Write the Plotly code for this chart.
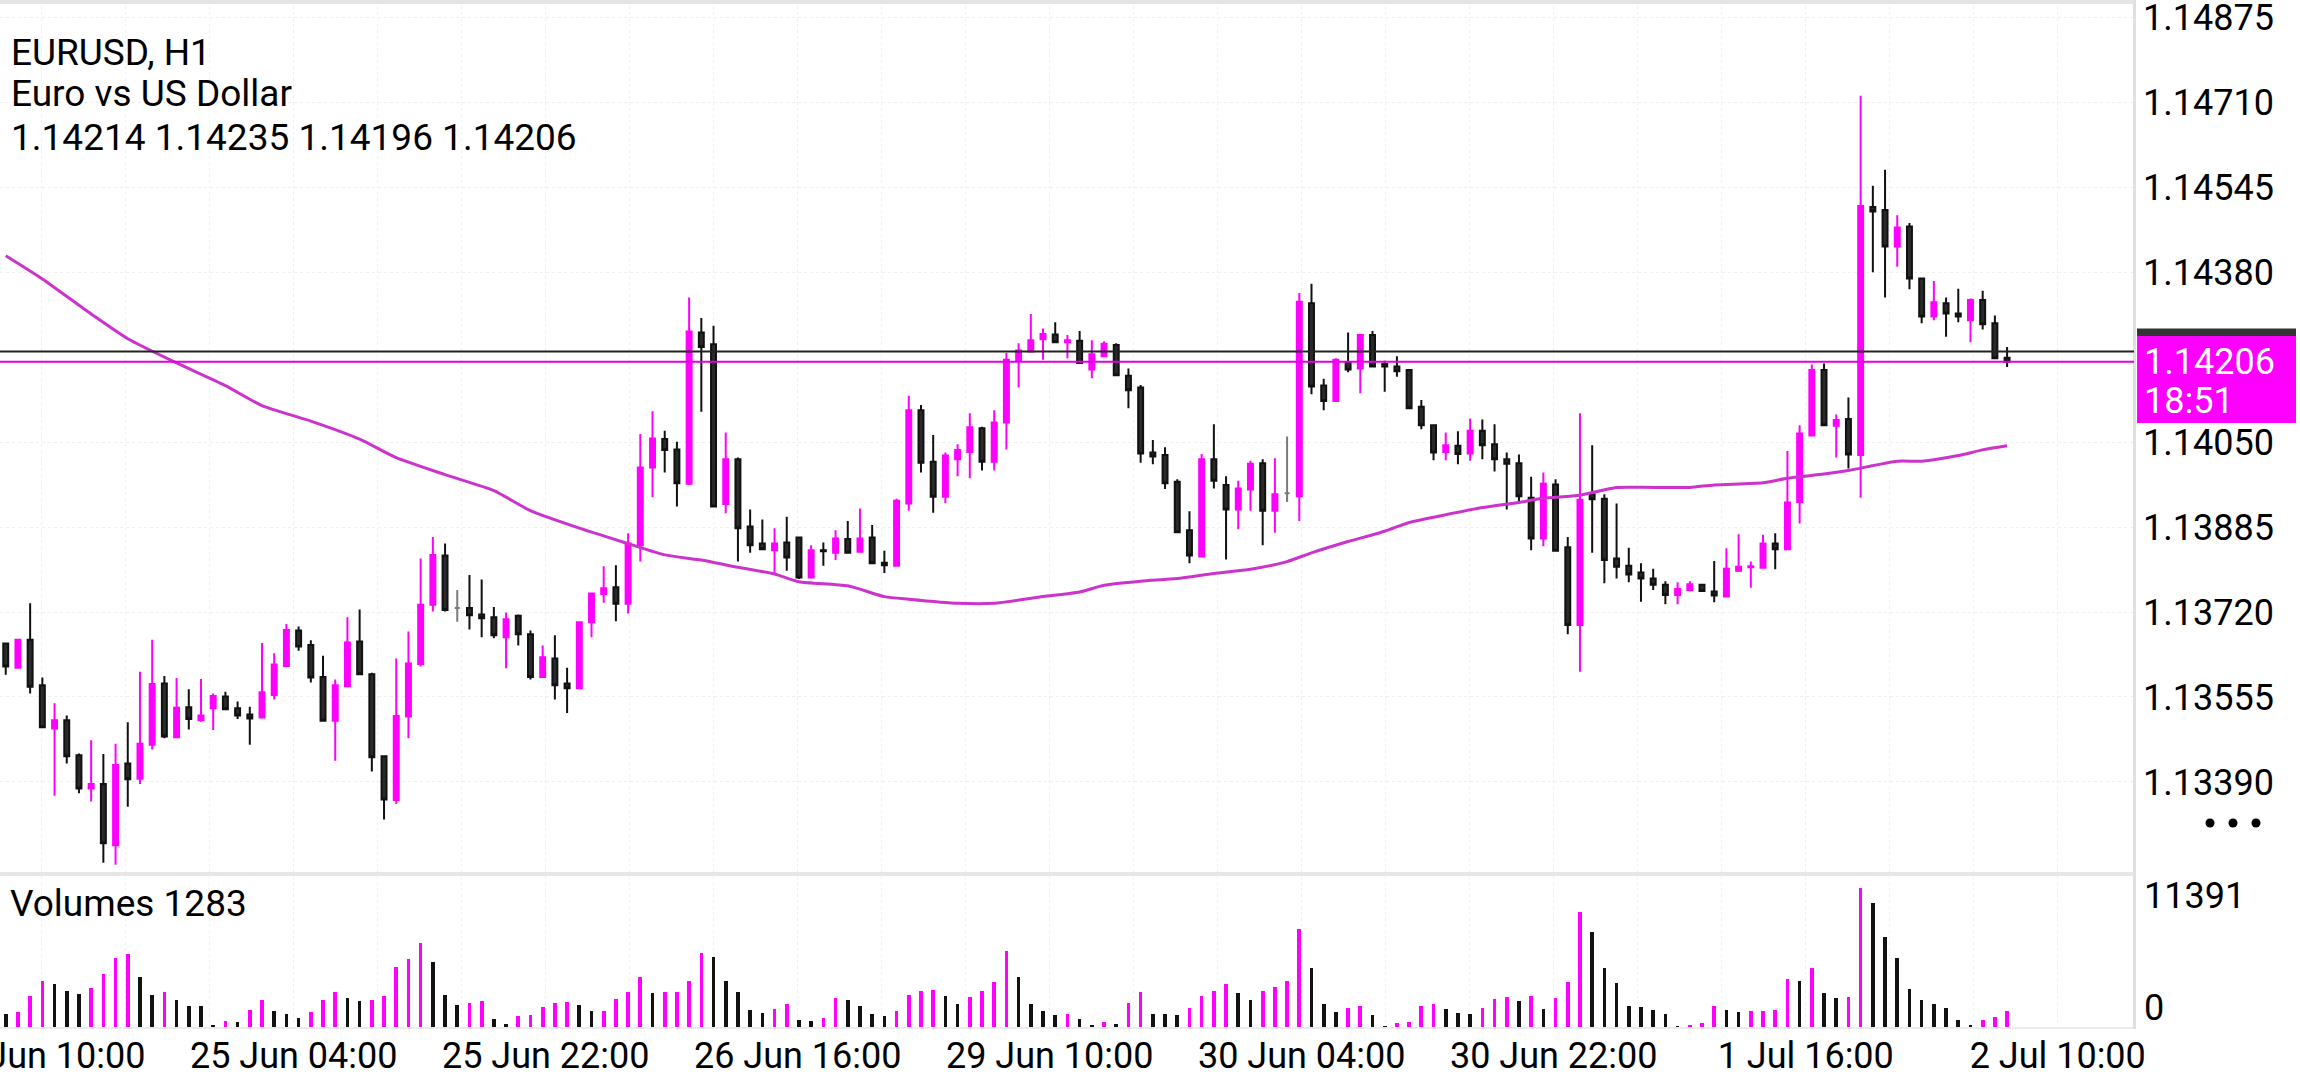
import plotly.graph_objects as go

# ---------------- data ----------------
SYMBOL = "EURUSD, H1"
DESCRIPTION = "Euro vs US Dollar"
BID = 1.14206
ASK = 1.14226
COUNTDOWN = "18:51"

opens = [1.13659, 1.13612, 1.13666, 1.13578, 1.13494, 1.13510, 1.13442, 1.13377, 1.13386, 1.13267,
         1.13426, 1.13396, 1.13462, 1.13581, 1.13477, 1.13535, 1.13510, 1.13533, 1.13556, 1.13533,
         1.13521, 1.13515, 1.13559, 1.13615, 1.13684, 1.13656, 1.13594, 1.13509, 1.13576, 1.13663,
         1.13599, 1.13440, 1.13355, 1.13517, 1.13619, 1.13734, 1.13830, 1.13728, 1.13728, 1.13715,
         1.13710, 1.13671, 1.13713, 1.13677, 1.13594, 1.13630, 1.13581, 1.13572, 1.13700, 1.13755,
         1.13768, 1.13736, 1.13850, 1.14001, 1.14056, 1.14036, 1.13969, 1.14263, 1.14240, 1.13930,
         1.14017, 1.13886, 1.13853, 1.13840, 1.13855, 1.13865, 1.13787, 1.13840, 1.13835, 1.13862,
         1.13837, 1.13865, 1.13816, 1.13810, 1.13931, 1.14112, 1.14012, 1.13944, 1.14017, 1.14031,
         1.14077, 1.14012, 1.14088, 1.14208, 1.14226, 1.14250, 1.14259, 1.14244, 1.14247, 1.14191,
         1.14217, 1.14239, 1.14179, 1.14156, 1.14030, 1.14025, 1.13973, 1.13879, 1.13828, 1.14017,
         1.13967, 1.13919, 1.13958, 1.14009, 1.13917, 1.13951, 1.13945, 1.14320, 1.14160, 1.14130,
         1.14204, 1.14193, 1.14258, 1.14202, 1.14197, 1.14190, 1.14119, 1.14083, 1.14031, 1.14043,
         1.14028, 1.14072, 1.14046, 1.14017, 1.14009, 1.13942, 1.13863, 1.13968, 1.13846, 1.13695,
         1.13949, 1.13940, 1.13824, 1.13810, 1.13797, 1.13785, 1.13773, 1.13753, 1.13763, 1.13773,
         1.13760, 1.13750, 1.13800, 1.13807, 1.13806, 1.13853, 1.13842, 1.13934, 1.14063, 1.14190,
         1.14082, 1.14095, 1.14025, 1.14507, 1.14501, 1.14430, 1.14469, 1.14368, 1.14294, 1.14320,
         1.14300, 1.14287, 1.14326, 1.14281, 1.14214]
highs = [1.13661, 1.13668, 1.13737, 1.13593, 1.13543, 1.13519, 1.13445, 1.13471, 1.13444, 1.13464,
         1.13506, 1.13604, 1.13666, 1.13596, 1.13592, 1.13570, 1.13590, 1.13562, 1.13565, 1.13546,
         1.13536, 1.13660, 1.13640, 1.13697, 1.13692, 1.13665, 1.13635, 1.13589, 1.13710, 1.13725,
         1.13602, 1.13442, 1.13630, 1.13682, 1.13824, 1.13866, 1.13853, 1.13763, 1.13792, 1.13783,
         1.13730, 1.13719, 1.13715, 1.13684, 1.13655, 1.13675, 1.13612, 1.13700, 1.13757, 1.13809,
         1.13811, 1.13873, 1.14066, 1.14110, 1.14072, 1.14051, 1.14331, 1.14291, 1.14276, 1.14069,
         1.14020, 1.13919, 1.13900, 1.13883, 1.13905, 1.13866, 1.13850, 1.13855, 1.13879, 1.13897,
         1.13921, 1.13889, 1.13839, 1.13940, 1.14140, 1.14122, 1.14064, 1.14030, 1.14046, 1.14106,
         1.14080, 1.14112, 1.14223, 1.14242, 1.14299, 1.14271, 1.14283, 1.14258, 1.14266, 1.14248,
         1.14246, 1.14242, 1.14193, 1.14161, 1.14054, 1.14040, 1.13978, 1.13916, 1.14027, 1.14085,
         1.13984, 1.13975, 1.14014, 1.14017, 1.14019, 1.14061, 1.14340, 1.14358, 1.14173, 1.14213,
         1.14263, 1.14258, 1.14266, 1.14208, 1.14217, 1.14191, 1.14132, 1.14085, 1.14069, 1.14071,
         1.14096, 1.14094, 1.14085, 1.14030, 1.14026, 1.13983, 1.13991, 1.13978, 1.13866, 1.14106,
         1.14044, 1.13949, 1.13931, 1.13845, 1.13815, 1.13804, 1.13780, 1.13778, 1.13780, 1.13774,
         1.13819, 1.13844, 1.13871, 1.13818, 1.13870, 1.13873, 1.14033, 1.14083, 1.14201, 1.14203,
         1.14104, 1.14137, 1.14723, 1.14548, 1.14579, 1.14491, 1.14476, 1.14370, 1.14363, 1.14331,
         1.14348, 1.14329, 1.14344, 1.14296, 1.14235]
lows = [1.13598, 1.13611, 1.13562, 1.13495, 1.13363, 1.13426, 1.13368, 1.13352, 1.13233, 1.13229,
        1.13342, 1.13386, 1.13453, 1.13475, 1.13477, 1.13492, 1.13507, 1.13491, 1.13531, 1.13512,
        1.13462, 1.13515, 1.13550, 1.13615, 1.13645, 1.13583, 1.13507, 1.13431, 1.13575, 1.13599,
        1.13410, 1.13317, 1.13347, 1.13475, 1.13614, 1.13721, 1.13721, 1.13701, 1.13686, 1.13671,
        1.13669, 1.13611, 1.13655, 1.13589, 1.13592, 1.13550, 1.13524, 1.13570, 1.13671, 1.13738,
        1.13702, 1.13717, 1.13818, 1.13943, 1.13991, 1.13925, 1.13967, 1.14109, 1.13923, 1.13912,
        1.13818, 1.13835, 1.13841, 1.13796, 1.13800, 1.13784, 1.13785, 1.13810, 1.13821, 1.13834,
        1.13835, 1.13814, 1.13796, 1.13810, 1.13917, 1.13991, 1.13913, 1.13932, 1.13984, 1.13980,
        1.13995, 1.13995, 1.14036, 1.14156, 1.14226, 1.14210, 1.14242, 1.14213, 1.14204, 1.14174,
        1.14216, 1.14179, 1.14116, 1.14010, 1.14007, 1.13959, 1.13874, 1.13815, 1.13828, 1.13960,
        1.13822, 1.13881, 1.13917, 1.13850, 1.13874, 1.13934, 1.13897, 1.14143, 1.14112, 1.14130,
        1.14186, 1.14145, 1.14195, 1.14148, 1.14177, 1.14115, 1.14075, 1.14015, 1.14015, 1.14007,
        1.14014, 1.14017, 1.13993, 1.13919, 1.13931, 1.13840, 1.13848, 1.13837, 1.13677, 1.13604,
        1.13835, 1.13776, 1.13785, 1.13778, 1.13740, 1.13763, 1.13735, 1.13735, 1.13760, 1.13760,
        1.13739, 1.13750, 1.13798, 1.13767, 1.13806, 1.13803, 1.13842, 1.13892, 1.14061, 1.14082,
        1.14020, 1.13999, 1.13942, 1.14380, 1.14331, 1.14391, 1.14347, 1.14281, 1.14287, 1.14255,
        1.14283, 1.14244, 1.14269, 1.14211, 1.14196]
closes = [1.13614, 1.13666, 1.13575, 1.13496, 1.13510, 1.13440, 1.13377, 1.13386, 1.13271, 1.13423,
          1.13395, 1.13464, 1.13580, 1.13478, 1.13534, 1.13512, 1.13519, 1.13557, 1.13531, 1.13519,
          1.13513, 1.13564, 1.13618, 1.13685, 1.13653, 1.13593, 1.13509, 1.13578, 1.13661, 1.13599,
          1.13438, 1.13356, 1.13518, 1.13620, 1.13734, 1.13831, 1.13724, 1.13728, 1.13714, 1.13708,
          1.13675, 1.13706, 1.13677, 1.13594, 1.13632, 1.13578, 1.13572, 1.13700, 1.13756, 1.13766,
          1.13736, 1.13853, 1.14001, 1.14057, 1.14035, 1.13970, 1.14265, 1.14235, 1.13925, 1.14017,
          1.13883, 1.13850, 1.13842, 1.13853, 1.13826, 1.13787, 1.13840, 1.13838, 1.13863, 1.13835,
          1.13863, 1.13815, 1.13811, 1.13936, 1.14112, 1.14010, 1.13944, 1.14024, 1.14035, 1.14079,
          1.14012, 1.14088, 1.14210, 1.14228, 1.14248, 1.14260, 1.14244, 1.14248, 1.14204, 1.14221,
          1.14241, 1.14180, 1.14151, 1.14028, 1.14022, 1.13970, 1.13875, 1.13830, 1.14017, 1.13975,
          1.13919, 1.13960, 1.14008, 1.13917, 1.13949, 1.13951, 1.14323, 1.14158, 1.14130, 1.14210,
          1.14191, 1.14258, 1.14197, 1.14197, 1.14188, 1.14116, 1.14083, 1.14030, 1.14044, 1.14027,
          1.14072, 1.14044, 1.14017, 1.14008, 1.13945, 1.13863, 1.13969, 1.13839, 1.13695, 1.13938,
          1.13939, 1.13821, 1.13808, 1.13793, 1.13785, 1.13773, 1.13753, 1.13765, 1.13774, 1.13761,
          1.13752, 1.13804, 1.13808, 1.13809, 1.13853, 1.13842, 1.13933, 1.14067, 1.14190, 1.14083,
          1.14093, 1.14026, 1.14509, 1.14498, 1.14430, 1.14467, 1.14368, 1.14294, 1.14322, 1.14300,
          1.14294, 1.14326, 1.14279, 1.14213, 1.14206]
volumes = [1092, 1229, 2512, 3767, 3549, 2921, 2675, 3194, 4368, 5624,
           5951, 4095, 2594, 2839, 2184, 1747, 1693, 137, 464, 382,
           1365, 2184, 1283, 1037, 737, 1229, 2184, 2839, 2375, 2129,
           2184, 2512, 4914, 5542, 6880, 5296, 2594, 1775, 1966, 2102,
           683, 218, 901, 956, 1611, 1993, 2048, 1775, 1283, 1338,
           2293, 2839, 4095, 2785, 2839, 2894, 3767, 6061, 5733, 3740,
           2839, 1365, 1147, 1447, 1856, 546, 491, 737, 2375, 2184,
           1720, 1092, 874, 1310, 2594, 2948, 3003, 2512, 1856, 2457,
           2948, 3658, 6224, 4095, 1911, 1310, 956, 1037, 628, 109,
           410, 218, 1966, 2839, 1092, 1037, 956, 1556, 2512, 2921,
           3549, 2785, 2184, 2948, 3276, 3767, 8054, 4832, 1856, 1229,
           1556, 1720, 956, 82, 328, 410, 1720, 1856, 1447, 1147,
           1037, 1556, 2293, 2457, 2102, 2512, 1447, 2375, 3658, 9419,
           7781, 4832, 3604, 1720, 1638, 1365, 1037, 30, 191, 328,
           1720, 1365, 1229, 1283, 1338, 1365, 3931, 3767, 4832, 2785,
           2402, 2457, 11391, 10156, 7371, 5651, 3112, 2184, 1856, 1556,
           546, 137, 546, 819, 1283]

# moving average, read at these bar numbers
ma_bars = [0, 3, 7, 10, 14, 18, 21, 25, 29, 32, 36, 40, 43, 47, 51, 54, 57, 60, 63, 65,
           69, 72, 74, 78, 81, 85, 88, 90, 93, 96, 99, 102, 105, 107, 110, 113, 115, 118, 121, 124,
           126, 129, 132, 135, 138, 140, 144, 146, 149, 151, 155, 157, 160, 162, 164]
ma_values = [1.14412, 1.14367, 1.14299, 1.14251, 1.14204, 1.14160, 1.14121, 1.14091, 1.14056, 1.14020,
             1.13987, 1.13956, 1.13917, 1.13883, 1.13853, 1.13831, 1.13821, 1.13807, 1.13794, 1.13779,
             1.13771, 1.13750, 1.13745, 1.13737, 1.13737, 1.13750, 1.13759, 1.13772, 1.13780, 1.13785,
             1.13795, 1.13803, 1.13818, 1.13835, 1.13857, 1.13877, 1.13894, 1.13909, 1.13923, 1.13933,
             1.13941, 1.13947, 1.13962, 1.13962, 1.13962, 1.13967, 1.13971, 1.13980, 1.13988, 1.13995,
             1.14013, 1.14013, 1.14024, 1.14035, 1.14043]

price_ticks = [1.13390, 1.13555, 1.13720, 1.13885, 1.14050, 1.14380, 1.14545, 1.14710, 1.14875]
time_labels = ["24 Jun 10:00", "25 Jun 04:00", "25 Jun 22:00", "26 Jun 16:00", "29 Jun 10:00",
               "30 Jun 04:00", "30 Jun 22:00", "1 Jul 16:00", "2 Jul 10:00"]
time_label_bars = [2.95, 23.6, 44.25, 64.9, 85.55, 106.2, 126.85, 147.5, 168.15]

# ---------------- layout geometry (pixels) ----------------
W, H = 2300, 1080
PLOT_R = 2134          # right edge of plotting area
MAIN_BOTTOM = 872
VOL_TOP = 876
VOL_BOTTOM = 1027
X_RANGE = [-0.47, 174.4]
Y_RANGE = [1.13215, 1.14909]
VOL_RANGE = [0, 12374]

MAGENTA = "#FF00FF"
MA_COLOR = "#CC33CC"
FONT = "Roboto"


def px(x):
    return x / PLOT_R


def py(y):
    return (VOL_BOTTOM - y) / VOL_BOTTOM


bars = list(range(len(opens)))
doji = [o == c for o, c in zip(opens, closes)]


def keep(arr, flags):
    return [v if f else None for v, f in zip(arr, flags)]


not_doji = [not d for d in doji]

fig = go.Figure()

fig.add_trace(go.Candlestick(
    x=bars, open=keep(opens, not_doji), high=keep(highs, not_doji),
    low=keep(lows, not_doji), close=keep(closes, not_doji),
    increasing=dict(line=dict(color=MAGENTA, width=2), fillcolor=MAGENTA),
    decreasing=dict(line=dict(color="#111111", width=2), fillcolor="#2a2a2a"),
    whiskerwidth=0, xaxis="x", yaxis="y", hoverinfo="skip"))

fig.add_trace(go.Candlestick(
    x=bars, open=keep(opens, doji), high=keep(highs, doji),
    low=keep(lows, doji), close=keep(closes, doji),
    increasing=dict(line=dict(color="#7a7a7a", width=2), fillcolor="#7a7a7a"),
    decreasing=dict(line=dict(color="#7a7a7a", width=2), fillcolor="#7a7a7a"),
    whiskerwidth=0, xaxis="x", yaxis="y", hoverinfo="skip"))

fig.add_trace(go.Scatter(
    x=ma_bars, y=ma_values, mode="lines",
    line=dict(color=MA_COLOR, width=3, shape="spline", smoothing=0.6),
    xaxis="x", yaxis="y", hoverinfo="skip"))

vol_colors = []
for i, v in enumerate(volumes):
    vol_colors.append(MAGENTA if i > 0 and v > volumes[i - 1] else "#111111")

fig.add_trace(go.Bar(
    x=bars, y=volumes, marker=dict(color=vol_colors, line=dict(width=0)),
    width=0.3, xaxis="x2", yaxis="y2", hoverinfo="skip"))

grid_minor = [time_label_bars[0] + k * (time_label_bars[1] - time_label_bars[0]) / 3 for k in range(-1, 27)]

common_x = dict(range=X_RANGE, showline=False, zeroline=False, ticks="",
                showgrid=True, gridcolor="#efefef", griddash="dot", gridwidth=1,
                tickvals=time_label_bars,
                minor=dict(tickvals=grid_minor, showgrid=True, gridcolor="#f2f2f2",
                           griddash="dot", gridwidth=1),
                fixedrange=True)

fig.update_layout(
    width=W, height=H,
    margin=dict(l=0, r=W - PLOT_R, t=0, b=H - VOL_BOTTOM, pad=0),
    paper_bgcolor="white", plot_bgcolor="white",
    showlegend=False, boxgap=0.42, bargap=0,
    xaxis=dict(domain=[0, 1], anchor="y", showticklabels=False,
               rangeslider=dict(visible=False), **common_x),
    xaxis2=dict(domain=[0, 1], anchor="y2", showticklabels=True,
                ticktext=time_labels, ticklabelstandoff=4, ticklabeloverflow="allow",
                tickfont=dict(family=FONT, size=36, color="#000000"),
                automargin=False, **common_x),
    yaxis=dict(domain=[py(MAIN_BOTTOM), 1], range=Y_RANGE, side="right", anchor="x",
               tickvals=price_ticks, ticktext=[f"{v:.5f}" for v in price_ticks],
               tickfont=dict(family=FONT, size=36, color="#000000"),
               ticks="", ticklabelstandoff=8, ticklabeloverflow="allow",
               showline=False, zeroline=False,
               showgrid=True, gridcolor="#eeeeee", griddash="dot", gridwidth=1,
               automargin=False, fixedrange=True),
    yaxis2=dict(domain=[0, py(VOL_TOP)], range=VOL_RANGE, side="right", anchor="x2",
                showticklabels=False, ticks="", showline=False, zeroline=False,
                showgrid=False, automargin=False, fixedrange=True),
)

shapes = [
    # frame lines
    dict(type="rect", xref="paper", yref="paper", x0=0, x1=px(PLOT_R), y0=py(0), y1=py(4),
         fillcolor="#e4e4e4", line=dict(width=0), layer="above"),
    dict(type="rect", xref="paper", yref="paper", x0=0, x1=px(PLOT_R), y0=py(MAIN_BOTTOM),
         y1=py(VOL_TOP), fillcolor="#e6e6e6", line=dict(width=0), layer="above"),
    dict(type="rect", xref="paper", yref="paper", x0=0, x1=px(PLOT_R), y0=py(VOL_BOTTOM + 2),
         y1=py(VOL_BOTTOM), fillcolor="#ececec", line=dict(width=0), layer="above"),
    dict(type="rect", xref="paper", yref="paper", x0=px(PLOT_R - 1), x1=px(PLOT_R + 2),
         y0=py(VOL_BOTTOM + 2), y1=py(0), fillcolor="#e0e0e0", line=dict(width=0), layer="above"),
    # ask and bid lines
    dict(type="line", xref="x domain", yref="y", x0=0, x1=1, y0=ASK, y1=ASK,
         line=dict(color="#222222", width=2), layer="above"),
    dict(type="line", xref="x domain", yref="y", x0=0, x1=1, y0=BID, y1=BID,
         line=dict(color="#E000E0", width=2), layer="above"),
    # price labels on the scale
    dict(type="rect", xref="paper", yref="paper", x0=px(2137), x1=px(2296),
         y0=py(374.5), y1=py(328.5), fillcolor="#333333", line=dict(width=0), layer="above"),
    dict(type="rect", xref="paper", yref="paper", x0=px(2137), x1=px(2296),
         y0=py(423), y1=py(336), fillcolor=MAGENTA, line=dict(width=0), layer="above"),
]
for cx in (2210, 2233, 2256):
    r = 4.5
    shapes.append(dict(type="circle", xref="paper", yref="paper",
                       x0=px(cx - r), x1=px(cx + r), y0=py(823 + r), y1=py(823 - r),
                       fillcolor="#000000", line=dict(width=0), layer="above"))
fig.update_layout(shapes=shapes)

txt = dict(family=FONT, size=37, color="#000000")
annotations = [
    dict(text=SYMBOL, x=px(9), y=py(52), xref="paper", yref="paper",
         xanchor="left", yanchor="middle", showarrow=False, font=txt),
    dict(text=DESCRIPTION, x=px(9), y=py(94), xref="paper", yref="paper",
         xanchor="left", yanchor="middle", showarrow=False, font=txt),
    dict(text=f"{opens[-1]:.5f} {highs[-1]:.5f} {lows[-1]:.5f} {closes[-1]:.5f}",
         x=px(9), y=py(137), xref="paper", yref="paper",
         xanchor="left", yanchor="middle", showarrow=False, font=txt),
    dict(text=f"Volumes {volumes[-1]}", x=px(8), y=py(903), xref="paper", yref="paper",
         xanchor="left", yanchor="middle", showarrow=False, font=txt),
    dict(text=f"{max(volumes)}", x=px(2142), y=max(volumes), xref="paper", yref="y2",
         xanchor="left", yanchor="middle", yshift=-8, showarrow=False,
         font=dict(family=FONT, size=36, color="#000000")),
    dict(text="0", x=px(2142), y=0, xref="paper", yref="y2",
         xanchor="left", yanchor="bottom", yshift=-4, showarrow=False,
         font=dict(family=FONT, size=36, color="#000000")),
    dict(text=f"{BID:.5f}", x=px(2142), y=BID, xref="paper", yref="y",
         xanchor="left", yanchor="middle", showarrow=False,
         font=dict(family=FONT, size=36, color="#ffffff")),
    dict(text=COUNTDOWN, x=px(2142), y=BID, xref="paper", yref="y",
         xanchor="left", yanchor="middle", yshift=-39, showarrow=False,
         font=dict(family=FONT, size=36, color="#ffffff")),
]
fig.update_layout(annotations=annotations)

fig.write_html("out.html")
